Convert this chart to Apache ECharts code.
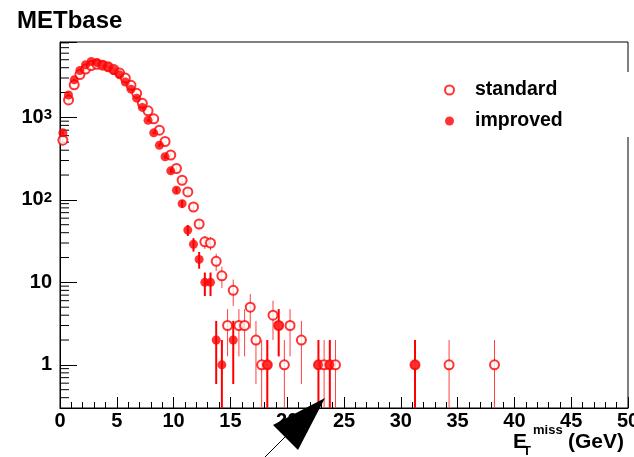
<!DOCTYPE html>
<html><head><meta charset="utf-8">
<script src="https://cdn.jsdelivr.net/npm/echarts@6/dist/echarts.min.js"></script>
<style>html,body{margin:0;padding:0;background:#fff}#c{width:634px;height:457px}</style>
</head><body><div id="c"></div>
<script>
// ---------------- data ----------------
const titleText = 'METbase';
const seriesNames = ['standard', 'improved'];

// standard (open markers): bin centres (GeV) and counts
const stdX = [0.25,0.75,1.25,1.75,2.25,2.75,3.25,3.75,4.25,4.75,5.25,5.75,6.25,6.75,7.25,7.75,8.25,8.75,9.25,9.75,
  10.25,10.75,11.25,11.75,12.25,12.75,13.25,13.75,14.25,14.75,15.25,15.75,16.25,16.75,17.25,17.75,18.25,18.75,19.25,19.75,
  20.25,21.25,22.75,23.25,23.75,24.25,31.25,34.25,38.25];
const stdY = [530,1630,2480,3300,3850,4250,4400,4300,4100,3800,3450,3000,2450,1960,1480,1200,960,700,510,350,
  240,173,125,82,51,31,30,18,12,3,8,3,3,5,2,1,1,4,3,1,
  3,2,1,1,1,1,1,1,1];

// improved (filled markers)
const impX = [0.25,0.75,1.25,1.75,2.25,2.75,3.25,3.75,4.25,4.75,5.25,5.75,6.25,6.75,7.25,7.75,8.25,8.75,9.25,9.75,
  10.25,10.75,11.25,11.75,12.25,12.75,13.25,13.75,14.25,15.25,18.25,19.25,22.75,23.75,31.25];
const impY = [650,1870,2850,3700,4340,4760,4630,4340,4070,3700,3280,2680,2200,1710,1320,920,650,460,333,225,
  131,90,43,29,19,10,10,2,1,2,1,3,1,1,1];

// axes
const xMin = 0, xMax = 50, xStep = 5;
const yMin = 0.3, yMax = 8200;
const yTickValues = [1, 10, 100, 1000];
const yTickBase = ['1', '10', '10', '10'];
const yTickExp = ['', '', '2', '3'];
const yMinorTicks = [0.4,0.5,0.6,0.7,0.8,0.9, 2,3,4,5,6,7,8,9, 20,30,40,50,60,70,80,90,
  200,300,400,500,600,700,800,900, 2000,3000,4000,5000,6000,7000,8000];

// ---------------- chart ----------------
const FONT = '"Liberation Sans", Arial, Helvetica, sans-serif';
const RED = '#ff0000';
const pts = (xs, ys) => xs.map((x, i) => [x, ys[i]]);
const errs = (xs, ys) => xs.map((x, i) => [x, ys[i], Math.sqrt(ys[i])]);

function errItem(color, width) {
  return function (params, api) {
    const x = api.value(0), y = api.value(1), e = api.value(2);
    const lo = Math.max(y - e, yMin), hi = Math.min(y + e, yMax);
    const p0 = api.coord([x, lo]), p1 = api.coord([x, hi]);
    return { type: 'line', shape: { x1: p0[0], y1: p0[1], x2: p1[0], y2: p1[1] },
      style: { stroke: color, lineWidth: width } };
  };
}

const chart = echarts.init(document.getElementById('c'), null, { renderer: 'canvas' });
chart.setOption({
  animation: false,
  backgroundColor: '#fff',
  textStyle: { fontFamily: FONT },
  title: { text: titleText, left: 12, top: 4,
    textStyle: { fontSize: 24, fontWeight: 'bold', color: '#000', fontFamily: FONT } },
  legend: {
    data: seriesNames, orient: 'vertical', left: 439, top: 75,
    itemWidth: 41, itemHeight: 9, itemGap: 11, symbolKeepAspect: true,
    textStyle: { fontSize: 19.5, fontWeight: 'bold', color: '#000', fontFamily: FONT, lineHeight: 16 }
  },
  grid: { left: 60, right: 6, top: 42, bottom: 49, show: true, borderColor: '#000', borderWidth: 1,
    outerBoundsMode: 'none', containLabel: false },
  xAxis: {
    type: 'value', min: xMin, max: xMax, interval: xStep,
    axisLine: { show: true, onZero: false, lineStyle: { color: '#000', width: 1 } },
    axisTick: { show: true, inside: true, length: 11, lineStyle: { color: '#000' } },
    minorTick: { show: true, splitNumber: 5, length: 6, lineStyle: { color: '#000' } },
    splitLine: { show: false },
    axisLabel: { fontSize: 20, fontWeight: 'bold', color: '#000', margin: 3, fontFamily: FONT,
      showMinLabel: true, showMaxLabel: true, hideOverlap: false }
  },
  yAxis: {
    type: 'log', logBase: 10, min: yMin, max: yMax,
    axisLine: { show: true, lineStyle: { color: '#000', width: 1 } },
    axisTick: { show: true, inside: true, length: 17, lineStyle: { color: '#000' } },
    splitLine: { show: false },
    axisLabel: {
      margin: 8, showMinLabel: true, showMaxLabel: true,
      formatter: function (v) {
        for (let i = 0; i < yTickValues.length; i++) {
          if (Math.abs(v - yTickValues[i]) < 1e-6 * yTickValues[i]) {
            return '{b|' + yTickBase[i] + '}' + (yTickExp[i] ? '{s|' + yTickExp[i] + '}' : '');
          }
        }
        return '';
      },
      rich: {
        b: { fontSize: 20, fontWeight: 'bold', color: '#000', fontFamily: FONT, lineHeight: 20 },
        s: { fontSize: 15, fontWeight: 'bold', color: '#000', fontFamily: FONT, lineHeight: 15, verticalAlign: 'top' }
      }
    }
  },
  series: [
    { name: 'minorTicks', type: 'custom', silent: true, z: 1,
      data: yMinorTicks.map(v => [xMin, v]),
      renderItem: function (params, api) {
        const p = api.coord([api.value(0), api.value(1)]);
        return { type: 'line', shape: { x1: p[0], y1: p[1], x2: p[0] + 9, y2: p[1] },
          style: { stroke: '#000', lineWidth: 1 } };
      }
    },
    { name: 'standardErr', type: 'custom', silent: true, z: 2, clip: true,
      data: errs(stdX, stdY), renderItem: errItem('#ff4040', 1) },
    { name: 'improvedErr', type: 'custom', silent: true, z: 2, clip: true,
      data: errs(impX, impY), renderItem: errItem(RED, 2) },
    { name: 'standard', type: 'scatter', z: 3, symbol: 'emptyCircle', symbolSize: 9,
      itemStyle: { color: RED, borderColor: RED, borderWidth: 1.5 },
      data: pts(stdX, stdY) },
    { name: 'improved', type: 'scatter', z: 4, symbol: 'circle', symbolSize: 9,
      itemStyle: { color: RED, borderColor: RED, borderWidth: 0 },
      data: pts(impX, impY) }
  ],
  graphic: [
    { type: 'rect', shape: { x: 622, y: 72, width: 12, height: 65 }, style: { fill: '#fff' }, z: 100 },
    { type: 'text', x: 513, y: 432, z: 100,
      style: { text: 'E', fontSize: 21, fontWeight: 'bold', fontFamily: FONT, fill: '#000', verticalAlign: 'top' } },
    { type: 'text', x: 523, y: 445, z: 100,
      style: { text: 'T', fontSize: 13, fontWeight: 'bold', fontFamily: FONT, fill: '#000', verticalAlign: 'top' } },
    { type: 'text', x: 533, y: 424, z: 100,
      style: { text: 'miss', fontSize: 13, fontWeight: 'bold', fontFamily: FONT, fill: '#000', verticalAlign: 'top' } },
    { type: 'text', x: 568, y: 432, z: 100,
      style: { text: '(GeV)', fontSize: 21, fontWeight: 'bold', fontFamily: FONT, fill: '#000', verticalAlign: 'top' } },
    { type: 'polygon', z: 100, shape: { points: [[325, 398], [273, 425], [298, 450]] }, style: { fill: '#000' } },
    { type: 'line', z: 100, shape: { x1: 285, y1: 437, x2: 264, y2: 458 }, style: { stroke: '#000', lineWidth: 1 } }
  ]
});
</script>
</body></html>
